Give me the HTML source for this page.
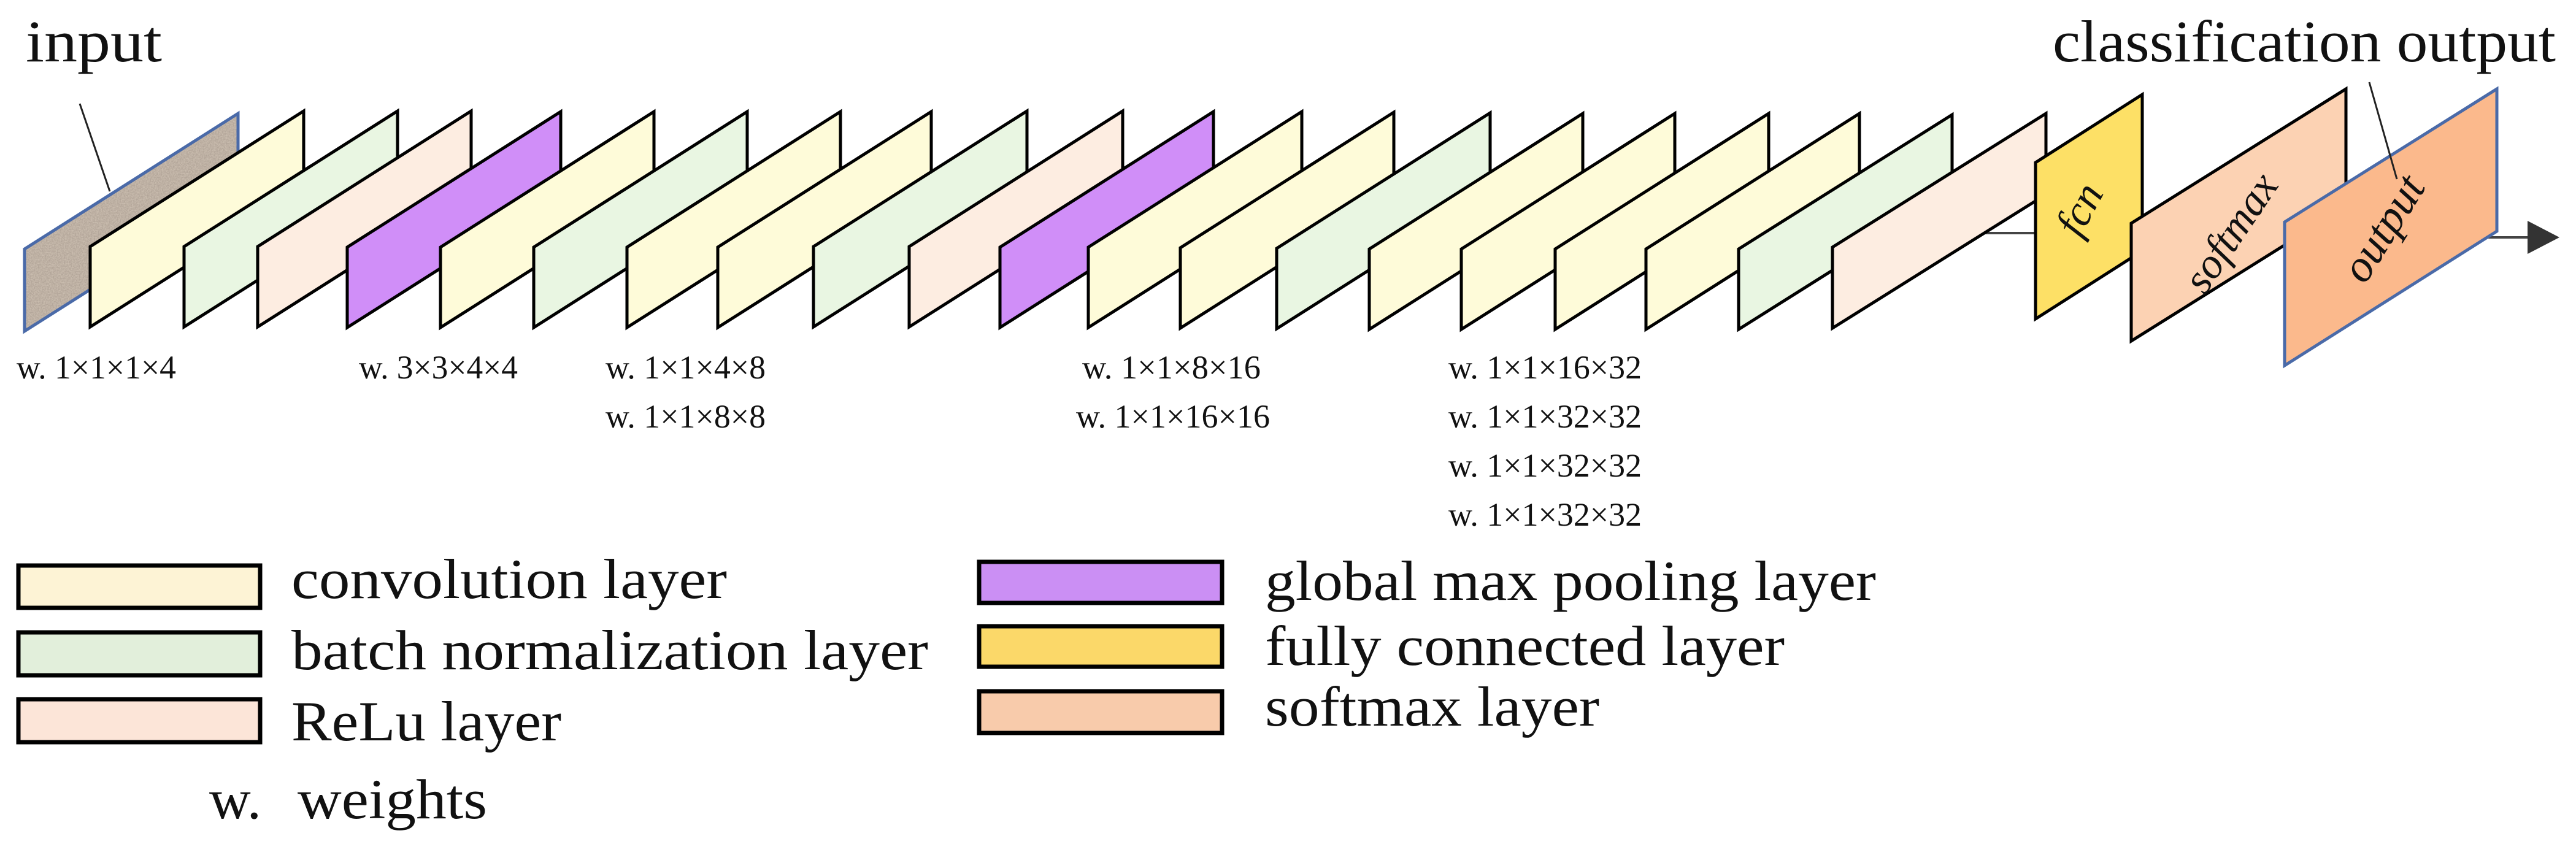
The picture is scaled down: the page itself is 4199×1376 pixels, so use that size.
<!DOCTYPE html>
<html><head><meta charset="utf-8"><style>
html,body{margin:0;padding:0;background:#fff;}
svg{display:block;}
text{font-family:"Liberation Serif","DejaVu Serif",serif;fill:#111;}
</style></head><body>
<svg width="4199" height="1376" viewBox="0 0 4199 1376" xmlns="http://www.w3.org/2000/svg">
<defs>
<filter id="noise" x="0" y="0" width="100%" height="100%">
<feTurbulence type="fractalNoise" baseFrequency="0.45" numOctaves="2" seed="4" result="t"/>
<feColorMatrix type="matrix" in="t" values="0 0 0 0 0.45  0 0 0 0 0.38  0 0 0 0 0.32  0 0 0 -2.2 1.6" result="c"/>
<feComposite in="c" in2="SourceGraphic" operator="in"/>
</filter>
</defs>
<rect width="4199" height="1376" fill="#fff"/>

<text x="42" y="100" font-size="96" textLength="222" lengthAdjust="spacingAndGlyphs">input</text>
<text x="3346" y="100" font-size="96" textLength="820" lengthAdjust="spacingAndGlyphs">classification output</text>

<polygon points="40,540 40,406 388,185 388,319" fill="#c9bcae"/>
<polygon points="40,540 40,406 388,185 388,319" fill="#d8cfc3" filter="url(#noise)"/>
<polygon points="40,540 40,406 388,185 388,319" fill="none" stroke="#4a6aa8" stroke-width="5"/>
<line x1="130" y1="169" x2="179" y2="312" stroke="#222" stroke-width="3"/>

<g stroke="#000" stroke-width="5" stroke-linejoin="miter">
<polygon points="147,533 147,402 495,181 495,312" fill="#fefbd9"/>
<polygon points="300,533 300,402 648,181 648,312" fill="#e9f6e2"/>
<polygon points="420,533 420,402 768,181 768,312" fill="#fdede1"/>
<polygon points="566,534 566,403 914,182 914,313" fill="#d08ef8"/>
<polygon points="718,534 718,403 1066,182 1066,313" fill="#fefbd9"/>
<polygon points="870,534 870,403 1218,182 1218,313" fill="#e9f6e2"/>
<polygon points="1022,534 1022,403 1370,182 1370,313" fill="#fefbd9"/>
<polygon points="1170,534 1170,403 1518,182 1518,313" fill="#fefbd9"/>
<polygon points="1326,533 1326,402 1674,181 1674,312" fill="#e9f6e2"/>
<polygon points="1482,533 1482,402 1830,181 1830,312" fill="#fdede1"/>
<polygon points="1630,534 1630,403 1978,182 1978,313" fill="#d08ef8"/>
<polygon points="1774,534 1774,403 2122,182 2122,313" fill="#fefbd9"/>
<polygon points="1924,535 1924,404 2272,183 2272,314" fill="#fefbd9"/>
<polygon points="2081,536 2081,405 2429,184 2429,315" fill="#e9f6e2"/>
<polygon points="2232,537 2232,406 2580,185 2580,316" fill="#fefbd9"/>
<polygon points="2382,537 2382,406 2730,185 2730,316" fill="#fefbd9"/>
<polygon points="2535,537 2535,406 2883,185 2883,316" fill="#fefbd9"/>
<polygon points="2683,537 2683,406 3031,185 3031,316" fill="#fefbd9"/>
<polygon points="2834,537 2834,406 3182,187 3182,318" fill="#e9f6e2"/>
</g>
<line x1="3150" y1="380" x2="3318" y2="380" stroke="#444" stroke-width="4"/>
<g stroke="#000" stroke-width="5">
<polygon points="2987,535 2987,403 3335,185 3335,317" fill="#fdede1"/>
<polygon points="3318,520 3318,265 3492,154 3492,409" fill="#fde066"/>
<polygon points="3474,556 3474,364 3824,145 3824,337" fill="#fcd2b3"/>
</g>
<line x1="4040" y1="387" x2="4125" y2="387" stroke="#444" stroke-width="4"/>
<polygon points="4120,360 4172,387 4120,414" fill="#333"/>
<polygon points="3724,596 3724,362 4070,145 4070,377" fill="#fbb98c" stroke="#4a6aa8" stroke-width="5"/>
<line x1="3862" y1="134" x2="3907" y2="292" stroke="#222" stroke-width="3"/>

<g font-style="italic">
<text x="0" y="0" font-size="70" text-anchor="middle" transform="translate(3410,352) rotate(-62)">fcn</text>
<text x="0" y="0" font-size="70" text-anchor="middle" transform="translate(3655,392) rotate(-56)">softmax</text>
<text x="0" y="0" font-size="74" text-anchor="middle" transform="translate(3905,385) rotate(-58)">output</text>
</g>

<g font-size="54">
<text x="27" y="617" textLength="260" lengthAdjust="spacingAndGlyphs">w. 1×1×1×4</text>
<text x="585" y="617" textLength="259" lengthAdjust="spacingAndGlyphs">w. 3×3×4×4</text>
<text x="987" y="617" textLength="261" lengthAdjust="spacingAndGlyphs">w. 1×1×4×8</text>
<text x="987" y="697" textLength="261" lengthAdjust="spacingAndGlyphs">w. 1×1×8×8</text>
<text x="1764" y="617" textLength="291" lengthAdjust="spacingAndGlyphs">w. 1×1×8×16</text>
<text x="1754" y="697" textLength="316" lengthAdjust="spacingAndGlyphs">w. 1×1×16×16</text>
<text x="2361" y="617" textLength="315" lengthAdjust="spacingAndGlyphs">w. 1×1×16×32</text>
<text x="2361" y="697" textLength="315" lengthAdjust="spacingAndGlyphs">w. 1×1×32×32</text>
<text x="2361" y="777" textLength="315" lengthAdjust="spacingAndGlyphs">w. 1×1×32×32</text>
<text x="2361" y="857" textLength="315" lengthAdjust="spacingAndGlyphs">w. 1×1×32×32</text>
</g>

<g stroke="#000" stroke-width="7">
<rect x="30" y="922" width="394" height="69" fill="#fdf3d5"/>
<rect x="30" y="1031" width="394" height="70" fill="#e2efdb"/>
<rect x="30" y="1140" width="394" height="70" fill="#fce5d8"/>
<rect x="1596" y="916" width="396" height="67" fill="#cb8ff4"/>
<rect x="1596" y="1021" width="396" height="66" fill="#fbd869"/>
<rect x="1596" y="1127" width="396" height="68" fill="#f8cbab"/>
</g>
<g font-size="92">
<text x="475" y="975" textLength="710" lengthAdjust="spacingAndGlyphs">convolution layer</text>
<text x="475" y="1091" textLength="1038" lengthAdjust="spacingAndGlyphs">batch normalization layer</text>
<text x="475" y="1207" textLength="440" lengthAdjust="spacingAndGlyphs">ReLu layer</text>
<text x="2062" y="978" textLength="996" lengthAdjust="spacingAndGlyphs">global max pooling layer</text>
<text x="2062" y="1084" textLength="847" lengthAdjust="spacingAndGlyphs">fully connected layer</text>
<text x="2062" y="1183" textLength="545" lengthAdjust="spacingAndGlyphs">softmax layer</text>
<text x="341" y="1334" textLength="85" lengthAdjust="spacingAndGlyphs">w.</text>
<text x="485" y="1334" textLength="309" lengthAdjust="spacingAndGlyphs">weights</text>
</g>
</svg>
</body></html>
